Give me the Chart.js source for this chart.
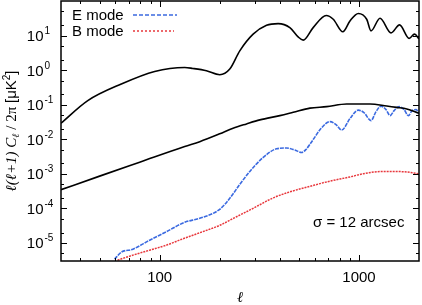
<!DOCTYPE html>
<html>
<head>
<meta charset="utf-8">
<script src="https://cdn.jsdelivr.net/npm/chart.js@4/dist/chart.umd.min.js"></script>
<style>
  html, body { margin: 0; padding: 0; background: #fff; }
  #chart { display: block; }
</style>
</head>
<body>
<canvas id="chart" width="422" height="305"></canvas>
<script>
/* ================== DATA ================== */
// theory TT (upper black)
const ttEll = [32, 43.6, 64.2, 94.4, 133.6, 146.5, 171.7, 200.2, 224.8, 252.3, 294.4, 343.8, 393, 450, 495, 525, 589, 685, 742.8, 830, 901, 992, 1093, 1149, 1275, 1448, 1598, 1784, 1900, 2000];
const ttVal = [0.029, 0.131, 0.396, 0.915, 1.19, 1.12, 0.96, 0.735, 1.07, 3.62, 11.0, 19.9, 22.2, 17.0, 9.17, 7.37, 17.0, 38.0, 29.7, 12.9, 26.5, 43.5, 29.7, 13.7, 31.8, 11.97, 20.4, 8.3, 11.0, 8.03];

// theory EE (lower black)
const eeEll = [32, 50, 79.4, 133.6, 158.9, 200.2, 233.5, 272.7, 318.1, 400.9, 467.7, 567.3, 688, 867.4, 1136, 1378, 1547, 1737, 2000];
const eeVal = [3.47e-4, 8.57e-4, 2.17e-3, 6.16e-3, 8.5e-3, 0.01432, 0.0208, 0.0278, 0.0363, 0.0483, 0.0601, 0.0794, 0.0877, 0.105, 0.105, 0.092, 0.0838, 0.0754, 0.0562];

// reconstructed E mode
const eModeEll = [59.4, 64.2, 73.4, 89.1, 108.1, 133.6, 158.9, 200.2, 224.8, 252.3, 283.4, 330.5, 385.8, 433.2, 476.9, 515.4, 541.7, 589.3, 644.2, 715, 766.3, 818.8, 901, 992, 1059, 1149, 1217, 1290, 1367, 1432, 1500, 1589, 1683, 1769, 1846, 1934, 2000];
const eModeVal = [3.39e-6, 5.4e-6, 6.59e-6, 1.198e-5, 2.11e-5, 3.96e-5, 5.16e-5, 9.39e-5, 1.95e-4, 4.94e-4, 1.171e-3, 2.97e-3, 5.29e-3, 5.58e-3, 4.88e-3, 4.14e-3, 5.05e-3, 9.81e-3, 0.02037, 0.0324, 0.0266, 0.01843, 0.0396, 0.0696, 0.059, 0.0346, 0.063, 0.0908, 0.0719, 0.0483, 0.0673, 0.0878, 0.0719, 0.0483, 0.0673, 0.0719, 0.057];

// reconstructed B mode
const bModeEll = [61.5, 70.7, 89.1, 108.1, 131, 158.9, 200.2, 242.9, 294.4, 371, 450, 567.3, 688, 901, 1051, 1325, 1670, 2000];
const bModeVal = [3.17e-6, 4.14e-6, 6.17e-6, 8.6e-6, 1.32e-5, 1.97e-5, 3.24e-5, 5.71e-5, 1.003e-4, 2.01e-4, 3.0e-4, 4.33e-4, 5.83e-4, 8.13e-4, 1.005e-3, 1.17e-3, 1.15e-3, 1.005e-3];

// axes
const xTickLabels = [100, 1000];
const xMinorTicks = [40, 50, 60, 70, 80, 90, 200, 300, 400, 500, 600, 700, 800, 900];
const yTickExponents = [-5, -4, -3, -2, -1, 0, 1];
const yMinorMantissas = [2, 5];
const legendLabels = ["E mode", "B mode"];
const noteText = "σ = 12 arcsec";

/* ================== CONFIG ================== */
const X_MIN = 32, X_MAX = 2000;
const Y_MIN = 3e-6, Y_MAX = 100;
const SANS = "'Liberation Sans', Arial, sans-serif";
const SERIF = "'Liberation Serif', 'Times New Roman', serif";
const E_COLOR = "#3b6ae0";
const B_COLOR = "#e8383d";

const toPoints = (xs, ys) => xs.map((x, i) => ({ x, y: ys[i] }));

const line = (label, xs, ys, color, width, dash) => ({
  label,
  data: toPoints(xs, ys),
  borderColor: color,
  borderWidth: width,
  borderDash: dash,
  pointRadius: 0,
  fill: false,
  cubicInterpolationMode: "monotone",
});

/* ================== DECORATION PLUGIN ================== */
// frame, inward ticks on all sides, superscript tick labels, legend, note
const framePlugin = {
  id: "frame",
  afterDraw(chart) {
    const { ctx, chartArea: a } = chart;
    const xs = chart.scales.x, ys = chart.scales.y;
    ctx.save();

    // ticks
    ctx.strokeStyle = "#000";
    ctx.lineWidth = 1;
    ctx.beginPath();
    const tickX = (v, len) => {
      const p = Math.round(xs.getPixelForValue(v)) + 0.5;
      ctx.moveTo(p, a.bottom); ctx.lineTo(p, a.bottom - len);
      ctx.moveTo(p, a.top); ctx.lineTo(p, a.top + len);
    };
    const tickY = (v, len) => {
      const p = Math.round(ys.getPixelForValue(v)) + 0.5;
      ctx.moveTo(a.left, p); ctx.lineTo(a.left + len, p);
      ctx.moveTo(a.right, p); ctx.lineTo(a.right - len, p);
    };
    xTickLabels.forEach((v) => tickX(v, 6));
    xMinorTicks.forEach((v) => tickX(v, 3));
    for (let k = -6; k <= 1; k++) {
      if (yTickExponents.includes(k)) tickY(Math.pow(10, k), 6);
      yMinorMantissas.forEach((m) => {
        const v = m * Math.pow(10, k);
        if (v > Y_MIN && v < Y_MAX) tickY(v, 3);
      });
    }
    ctx.stroke();

    // frame
    ctx.lineWidth = 1.5;
    ctx.strokeRect(a.left, a.top, a.right - a.left, a.bottom - a.top);

    // x tick labels
    ctx.fillStyle = "#000";
    ctx.font = `15px ${SANS}`;
    ctx.textAlign = "center";
    ctx.textBaseline = "alphabetic";
    xTickLabels.forEach((v) => ctx.fillText(String(v), xs.getPixelForValue(v), 282));

    // y tick labels: 10^k
    yTickExponents.forEach((k) => {
      const p = ys.getPixelForValue(Math.pow(10, k));
      ctx.font = `15px ${SANS}`;
      ctx.textAlign = "right";
      ctx.fillText("10", 43.5, p + 5.5);
      ctx.font = `10px ${SANS}`;
      ctx.textAlign = "left";
      ctx.fillText(String(k), 44.5, p - 1.5);
    });

    // x title
    ctx.font = `italic 15px ${SERIF}`;
    ctx.textAlign = "center";
    ctx.fillText("ℓ", (a.left + a.right) / 2, 302);

    // y title (rotated, mixed fonts)
    const parts = [
      { t: "ℓ(ℓ+1) C", f: `italic 15px ${SERIF}`, dy: 0 },
      { t: "ℓ", f: `italic 10px ${SERIF}`, dy: 3 },
      { t: " / 2π ", f: `15px ${SERIF}`, dy: 0 },
      { t: "[μK", f: `15px ${SANS}`, dy: 0 },
      { t: "2", f: `10px ${SANS}`, dy: -6 },
      { t: "]", f: `15px ${SANS}`, dy: 0 },
    ];
    let total = 0;
    parts.forEach((p) => { ctx.font = p.f; p.w = ctx.measureText(p.t).width; total += p.w; });
    ctx.translate(0, (a.top + a.bottom) / 2);
    ctx.rotate(-Math.PI / 2);
    ctx.textAlign = "left";
    let u = -total / 2;
    parts.forEach((p) => { ctx.font = p.f; ctx.fillText(p.t, u, 16 + p.dy); u += p.w; });
    ctx.setTransform(1, 0, 0, 1, 0, 0);

    // legend
    const legendColors = [E_COLOR, B_COLOR];
    const legendDash = [[4, 2], [2, 2]];
    const legendEnd = [177, 174];
    legendLabels.forEach((lab, i) => {
      const yc = 15 + i * 16;
      ctx.font = `15px ${SANS}`;
      ctx.fillStyle = "#000";
      ctx.textAlign = "left";
      ctx.fillText(lab, 72, yc + 5);
      ctx.strokeStyle = legendColors[i];
      ctx.lineWidth = 1.5;
      ctx.setLineDash(legendDash[i]);
      ctx.beginPath();
      ctx.moveTo(133, yc);
      ctx.lineTo(legendEnd[i], yc);
      ctx.stroke();
    });
    ctx.setLineDash([]);

    // note
    ctx.font = `15px ${SANS}`;
    ctx.fillStyle = "#000";
    ctx.textAlign = "left";
    ctx.fillText(noteText, 313, 227);

    ctx.restore();
  },
};

/* ================== CHART ================== */
new Chart(document.getElementById("chart"), {
  type: "line",
  data: {
    datasets: [
      line("TT", ttEll, ttVal, "#000", 1.6, []),
      line("EE", eeEll, eeVal, "#000", 1.6, []),
      line("E mode", eModeEll, eModeVal, E_COLOR, 1.6, [4, 1]),
      line("B mode", bModeEll, bModeVal, B_COLOR, 1.5, [2, 1]),
    ],
  },
  options: {
    responsive: false,
    animation: false,
    devicePixelRatio: 1,
    layout: { padding: { left: 61, right: 3, top: 1, bottom: 44 } },
    plugins: { legend: { display: false }, tooltip: { enabled: false } },
    scales: {
      x: { type: "logarithmic", min: X_MIN, max: X_MAX, display: false },
      y: { type: "logarithmic", min: Y_MIN, max: Y_MAX, display: false },
    },
  },
  plugins: [framePlugin],
});
</script>
</body>
</html>
